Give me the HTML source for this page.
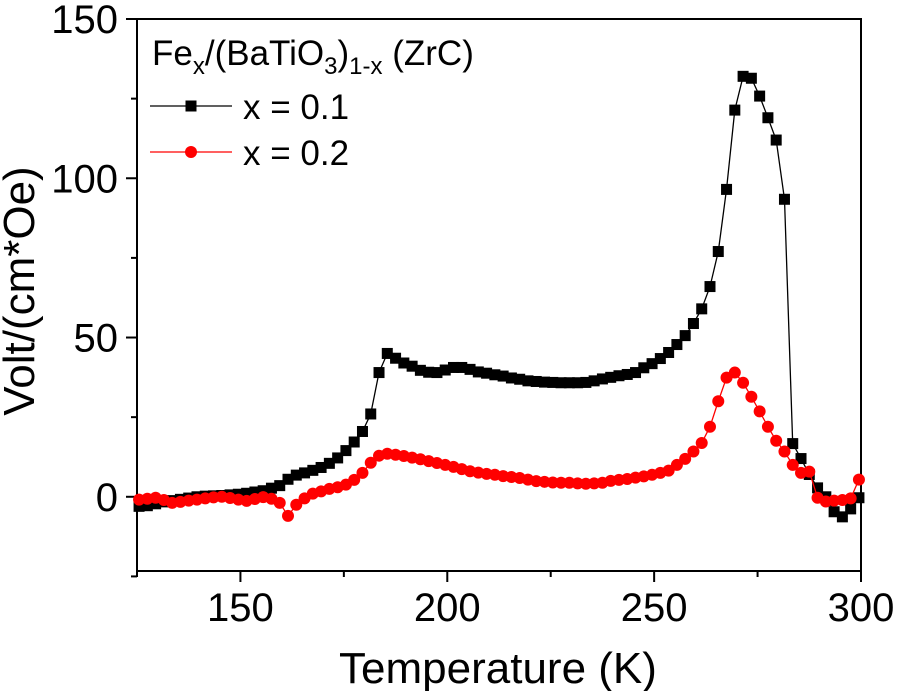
<!DOCTYPE html>
<html><head><meta charset="utf-8"><style>
html,body{margin:0;padding:0;background:#fff;}
svg{display:block;font-family:"Liberation Sans",Arial,sans-serif;}
</style></head><body>
<svg id="chart" width="899" height="691" viewBox="0 0 899 691">
<g id="axes"></g><g id="series"></g><g id="legend"></g>
</svg>
<script>
const temps=[125.5,127.5,129.5,131.5,133.5,135.5,137.5,139.5,141.5,143.5,145.5,147.5,149.5,151.5,153.5,155.5,157.5,159.5,161.5,163.5,165.5,167.5,169.5,171.5,173.5,175.5,177.5,179.5,181.5,183.5,185.5,187.5,189.5,191.5,193.5,195.5,197.5,199.5,201.5,203.5,205.5,207.5,209.5,211.5,213.5,215.5,217.5,219.5,221.5,223.5,225.5,227.5,229.5,231.5,233.5,235.5,237.5,239.5,241.5,243.5,245.5,247.5,249.5,251.5,253.5,255.5,257.5,259.5,261.5,263.5,265.5,267.5,269.5,271.5,273.5,275.5,277.5,279.5,281.5,283.5,285.5,287.5,289.5,291.5,293.5,295.5,297.5,299.5];
const seriesX01=[-3,-2.8,-2.2,-1.6,-1.2,-0.8,-0.4,0,0.2,0.3,0.4,0.6,0.8,1.1,1.5,1.9,2.7,3.5,5.5,6.8,7.5,8.3,9.2,10.5,12.2,14.5,17.2,20.5,26,39,45,43.5,42,41,39.7,39.1,39,39.8,40.6,40.6,40,39.2,38.8,38.3,37.9,37.3,36.9,36.4,36.2,36,35.9,35.8,35.8,35.8,35.9,36.4,37,37.5,38,38.4,39,40.5,41.8,43.4,45.3,47.8,50.6,54.4,59,66,77,96.5,121.4,132,131.4,125.8,119,112,93.4,16.7,12,7,2.8,0,-4.7,-6.3,-3.8,-0.3];
const seriesX02=[-0.9,-0.6,-0.3,-1,-1.9,-1.6,-1.2,-0.9,-0.5,-0.2,0,-0.4,-0.9,-1.3,-0.7,-0.1,-0.6,-1.9,-6,-2.5,-0.5,1,1.7,2.5,3,3.8,5.3,7.5,10.7,12.9,13.5,13.2,12.8,12.3,11.8,11.2,10.6,10,9.4,8.7,8,7.6,7.2,6.9,6.5,6.2,5.9,5.4,4.9,4.7,4.5,4.4,4.4,4.2,4.1,4.2,4.4,5,5.3,5.6,6,6.4,6.9,7.5,8.2,10,11.9,14.2,16.9,22,30,37.4,39,35.8,31.4,26.8,22,17.6,14.2,10,7.5,7.9,-0.3,-1.5,-1.2,-1,-0.5,5.4];
const xTicks=[150,200,250,300];
const yTicks=[0,50,100,150];
const xMinor=[125,175,225,275];
const yMinor=[-25,25,75,125];

const NS="http://www.w3.org/2000/svg";
const L=137,R=861,T=19,B=571,XMIN=125,XMAX=300,YMIN=-23.3,YMAX=150;
function sx(v){return L+(v-XMIN)*(R-L)/(XMAX-XMIN);}
function sy(v){return B-(v-YMIN)*(B-T)/(YMAX-YMIN);}
function mk(tag,attrs,parent){const e=document.createElementNS(NS,tag);for(const k in attrs)e.setAttribute(k,attrs[k]);parent.appendChild(e);return e;}
const axes=document.getElementById('axes'),ser=document.getElementById('series'),leg=document.getElementById('legend');

let frame=mk('rect',{x:L,y:T,width:R-L,height:B-T,fill:'none',stroke:'#000','stroke-width':2},axes);


xTicks.forEach(v=>{
  let t=mk('line',{x1:sx(v),x2:sx(v),y1:B,y2:B+11,stroke:'#000','stroke-width':2},axes);
  
  
  let l=mk('text',{x:sx(v),y:B+50,'font-size':40,'text-anchor':'middle'},axes);l.textContent=v;
  
  
});
xMinor.forEach(v=>{
  let t=mk('line',{x1:sx(v),x2:sx(v),y1:B,y2:B+6,stroke:'#000','stroke-width':2},axes);
  
  
});
yTicks.forEach(v=>{
  let t=mk('line',{x1:L-11,x2:L,y1:sy(v),y2:sy(v),stroke:'#000','stroke-width':2},axes);
  
  
  let l=mk('text',{x:L-19,y:sy(v)+14,'font-size':40,'text-anchor':'end'},axes);l.textContent=v;
  
  
});
yMinor.forEach(v=>{
  let t=mk('line',{x1:L-6,x2:L,y1:sy(v),y2:sy(v),stroke:'#000','stroke-width':2},axes);
  
  
});
let xt=mk('text',{x:498,y:683,'font-size':44,'text-anchor':'middle'},axes);xt.textContent='Temperature (K)';


let yt=mk('text',{x:0,y:0,'font-size':44,'text-anchor':'middle',transform:'translate(34,291) rotate(-90)'},axes);yt.textContent='Volt/(cm*Oe)';



function drawSeries(vals,color,shape,name){
  const g=mk('g',{},ser);
  
  
  let d=temps.map((t,i)=>(i?'L':'M')+sx(t).toFixed(1)+' '+sy(vals[i]).toFixed(1)).join(' ');
  let p=mk('path',{d:d,fill:'none',stroke:color,'stroke-width':1.3},g);
  
  
  temps.forEach((t,i)=>{
    let m;
    if(shape==='square') m=mk('rect',{x:sx(t)-5.5,y:sy(vals[i])-5.5,width:11,height:11,fill:color},g);
    else m=mk('circle',{cx:sx(t),cy:sy(vals[i]),r:6,fill:color},g);
    
    
  });
}
drawSeries(seriesX01,'#000','square','series-x-0-1');
drawSeries(seriesX02,'#f00','circle','series-x-0-2');

let lt=mk('text',{x:152,y:65,'font-size':35},leg);


lt.innerHTML='Fe<tspan font-size="24" dy="9">x</tspan><tspan dy="-9">/(BaTiO</tspan><tspan font-size="24" dy="9">3</tspan><tspan dy="-9">)</tspan><tspan font-size="24" dy="9">1-x</tspan><tspan dy="-9"> (ZrC)</tspan>';
[['x = 0.1','#000','square',106],['x = 0.2','#f00','circle',152]].forEach(e=>{
  const g=mk('g',{},leg);
  
  
  mk('line',{x1:150,x2:232,y1:e[3],y2:e[3],stroke:e[1],'stroke-width':1.3},g);
  if(e[2]==='square') mk('rect',{x:185.5,y:e[3]-5.5,width:11,height:11,fill:e[1]},g);
  else mk('circle',{cx:191,cy:e[3],r:6,fill:e[1]},g);
  let t=mk('text',{x:243,y:e[3]+13,'font-size':35},g);t.textContent=e[0];
});
</script>
</body></html>
